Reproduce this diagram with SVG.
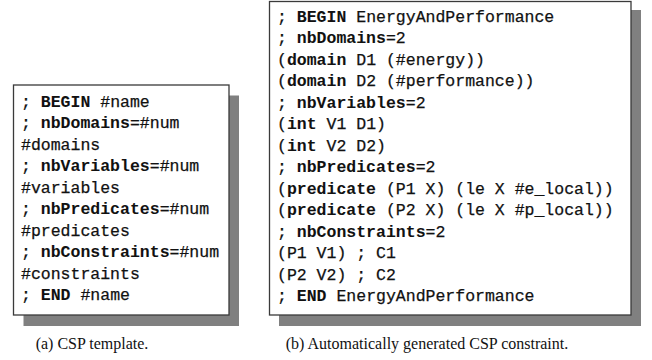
<svg xmlns="http://www.w3.org/2000/svg" width="652" height="360" viewBox="0 0 652 360">
<style>
.shadow{fill:#808080}
.box{fill:#fff;stroke:#3a3a3a;stroke-width:1.3}
.code{font-family:"Liberation Mono","DejaVu Sans Mono",monospace;font-size:16.5px;fill:#111;stroke:#111;stroke-width:0.25;white-space:pre}
.b{font-weight:bold;stroke-width:0.05}
.cap{font-family:"Liberation Serif","Times New Roman",serif;font-size:16px;fill:#111}
</style>
<rect width="652" height="360" fill="#fff"/>
<g id="template">
<rect class="shadow" x="23.5" y="95.5" width="215.5" height="230.5"/>
<rect class="box" x="13.5" y="85" width="215.5" height="230"/>
<text class="code" xml:space="preserve">
<tspan x="21" y="106.5">; <tspan class="b">BEGIN</tspan> #name</tspan>
<tspan x="21" y="128">; <tspan class="b">nbDomains</tspan>=#num</tspan>
<tspan x="21" y="149.5">#domains</tspan>
<tspan x="21" y="171">; <tspan class="b">nbVariables</tspan>=#num</tspan>
<tspan x="21" y="192.5">#variables</tspan>
<tspan x="21" y="214">; <tspan class="b">nbPredicates</tspan>=#num</tspan>
<tspan x="21" y="235.5">#predicates</tspan>
<tspan x="21" y="257">; <tspan class="b">nbConstraints</tspan>=#num</tspan>
<tspan x="21" y="278.5">#constraints</tspan>
<tspan x="21" y="300">; <tspan class="b">END</tspan> #name</tspan>
</text>
</g>
<g id="generated">
<rect class="shadow" x="279" y="10" width="362" height="316"/>
<rect class="box" x="269.5" y="1.5" width="361.5" height="313.5"/>
<text class="code" xml:space="preserve">
<tspan x="277" y="21.5">; <tspan class="b">BEGIN</tspan> EnergyAndPerformance</tspan>
<tspan x="277" y="43">; <tspan class="b">nbDomains</tspan>=2</tspan>
<tspan x="277" y="64.5">(<tspan class="b">domain</tspan> D1 (#energy))</tspan>
<tspan x="277" y="86">(<tspan class="b">domain</tspan> D2 (#performance))</tspan>
<tspan x="277" y="107.5">; <tspan class="b">nbVariables</tspan>=2</tspan>
<tspan x="277" y="129">(<tspan class="b">int</tspan> V1 D1)</tspan>
<tspan x="277" y="150.5">(<tspan class="b">int</tspan> V2 D2)</tspan>
<tspan x="277" y="172">; <tspan class="b">nbPredicates</tspan>=2</tspan>
<tspan x="277" y="193.5">(<tspan class="b">predicate</tspan> (P1 X) (le X #e_local))</tspan>
<tspan x="277" y="215">(<tspan class="b">predicate</tspan> (P2 X) (le X #p_local))</tspan>
<tspan x="277" y="236.5">; <tspan class="b">nbConstraints</tspan>=2</tspan>
<tspan x="277" y="258">(P1 V1) ; C1</tspan>
<tspan x="277" y="279.5">(P2 V2) ; C2</tspan>
<tspan x="277" y="301">; <tspan class="b">END</tspan> EnergyAndPerformance</tspan>
</text>
</g>
<g id="captions">
<text class="cap" x="92" y="349" text-anchor="middle">(a) CSP template.</text>
<text class="cap" x="427" y="349" text-anchor="middle">(b) Automatically generated CSP constraint.</text>
</g>
</svg>
